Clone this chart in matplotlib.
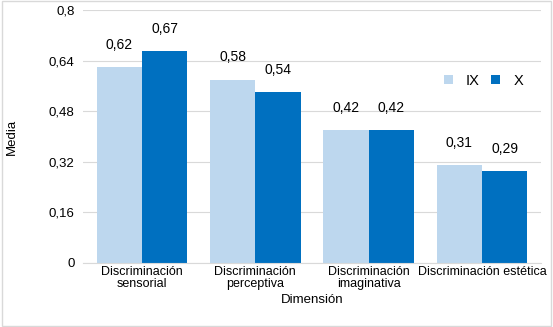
import matplotlib.pyplot as plt
import numpy as np
from matplotlib.patches import Rectangle

plt.rcParams['font.family'] = ['Liberation Sans', 'DejaVu Sans']

# data
categorias = ['Discriminación\nsensorial', 'Discriminación\nperceptiva',
              'Discriminación\nimaginativa', 'Discriminación estética']
serie_ix = [0.62, 0.58, 0.42, 0.31]
serie_x = [0.67, 0.54, 0.42, 0.29]
series = ['IX', 'X']
yticks = [0, 0.16, 0.32, 0.48, 0.64, 0.8]

fig = plt.figure(figsize=(5.53, 3.27), dpi=100)
ax = fig.add_axes([0.15, 0.196, 0.828, 0.773])

x = np.arange(len(categorias))
w = 0.4
b1 = ax.bar(x - w / 2, serie_ix, w, color='#bdd7ee', label=series[0])
b2 = ax.bar(x + w / 2, serie_x, w, color='#0070c0', label=series[1])

for bars, vals in ((b1, serie_ix), (b2, serie_x)):
    for rect, v in zip(bars, vals):
        ax.annotate(f'{v:.2f}'.replace('.', ','),
                    (rect.get_x() + rect.get_width() / 2, v),
                    xytext=(0, 11), textcoords='offset points',
                    ha='center', va='bottom', fontsize=10)

ax.set_ylim(0, 0.8)
ax.set_xlim(-0.52, 3.52)
ax.set_yticks(yticks)
ax.set_yticklabels([f'{t:g}'.replace('.', ',') for t in yticks], fontsize=9.5)
ax.set_xticks(x)
ax.set_xticklabels(categorias, fontsize=9, linespacing=1.05)
ax.tick_params(axis='both', length=0, pad=6)
ax.tick_params(axis='x', pad=2)
ax.yaxis.grid(True, color='#d9d9d9', linewidth=0.8)
ax.set_axisbelow(True)
for s in ['top', 'right', 'left']:
    ax.spines[s].set_visible(False)
ax.spines['bottom'].set_color('#d9d9d9')

ax.set_ylabel('Media', fontsize=9.5, labelpad=22)
ax.set_xlabel('Dimensión', fontsize=9.5, labelpad=3)

ax.legend(loc='upper left', bbox_to_anchor=(0.76, 0.8), ncol=2, frameon=False,
          fontsize=10.5, handlelength=0.6, handleheight=0.6,
          columnspacing=0.8, handletextpad=0.9)

fig.patches.append(Rectangle((0.003, 0.003), 0.994, 0.994, transform=fig.transFigure,
                             fill=False, edgecolor='#d9d9d9', linewidth=1))

fig.savefig('out.png', dpi=100)
